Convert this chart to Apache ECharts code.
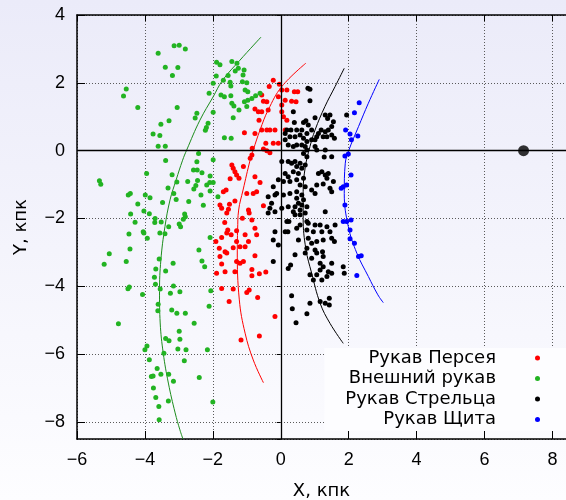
<!DOCTYPE html>
<html>
<head>
<meta charset="utf-8">
<script src="https://cdn.jsdelivr.net/npm/echarts@6/dist/echarts.min.js"></script>
<style>
  html, body { margin: 0; padding: 0; width: 566px; height: 500px; }
  body { background: linear-gradient(#ebebf9, #fdfdff); }
  #chart { width: 566px; height: 500px; }
</style>
</head>
<body>
<div id="chart"></div>
<script>
// arms, in legend order
const armNames = ['Рукав Персея', 'Внешний рукав', 'Рукав Стрельца', 'Рукав Щита']
const pointColors = ['#ff0000', '#22b322', '#000000', '#0000ff']
const lineColors = ['#ff0000', '#1c8c1c', '#000000', '#0000ff']

// measured sources, kpc
const perseusPts = [
  [-0.22,2.08],[-0.04,1.96],[-0.34,1.89],[0.03,1.79],[0.18,1.79],[0.40,1.74],[0.50,1.74],[-0.07,1.59],
  [-0.56,1.64],[-0.51,1.46],[-0.41,1.44],[0.13,1.49],[0.32,1.46],[0.45,1.44],[0.03,1.35],[0.03,1.15],
  [-0.37,1.20],[-0.56,1.15],[-0.66,1.15],[-0.76,1.23],[0.08,1.00],[0.18,0.90],[-0.64,0.90],[-0.56,0.61],
  [-0.41,0.61],[-0.32,0.61],[-0.17,0.61],[0.13,0.61],[-1.07,0.53],[-0.76,0.51],[-0.44,0.22],[-0.22,0.22],
  [-0.07,0.22],[-0.84,0.07],[-0.51,0.05],[-0.41,0.00],[-0.32,-0.06],[-0.85,-0.13],[-0.90,-0.22],
  [-1.44,-0.42],[-1.40,-0.52],[-1.35,-0.62],[-1.30,-0.72],[-1.49,-0.83],[-1.69,-1.21],[-1.61,-1.16],
  [-1.35,-1.48],[-1.79,-1.60],[-1.74,-1.70],[-1.51,-1.58],[-1.54,-1.73],[-1.59,-1.84],[-1.65,-2.12],
  [-1.56,-2.34],[-1.59,-2.43],[-1.74,-2.56],[-1.46,-2.48],[-1.30,-2.36],[-1.91,-2.68],[-1.81,-2.88],
  [-1.40,-2.86],[-1.30,-2.68],
  [-1.23,-0.81],[-0.76,-0.77],[-1.00,-1.26],[-0.81,-1.26],[-0.71,-1.21],[-0.51,-1.62],[-0.95,-1.75],
  [-0.93,-1.84],[-1.13,-1.99],[-0.85,-2.04],[-0.76,-2.29],[-1.05,-2.48],[-0.71,-2.48],[-0.95,-2.68],
  [-1.20,-2.83],[-1.05,-2.83],[-0.61,-0.94],[-1.10,-0.47],
  [-1.79,-3.12],[-1.64,-2.98],[-1.59,-3.02],[-1.30,-3.27],[-1.20,-3.32],[-1.10,-3.27],[-0.76,-3.10],
  [-1.74,-3.34],[-1.89,-3.61],[-1.64,-3.57],[-1.35,-3.57],[-0.85,-3.50],[-0.85,-3.69],[-0.63,-3.63],
  [-0.44,-3.58],[-1.74,-4.06],[-1.40,-4.08],[-1.00,-4.18],[-0.93,-4.11],[-0.68,-4.33],[-1.52,-4.45],
  [-0.17,-4.89],[-1.17,-5.58],[-0.63,-5.46]
]
const outerPts = [
  [-3.61,2.87],[-3.14,3.09],[-2.99,3.11],[-2.81,3.00],[-3.40,2.46],[-3.03,2.45],[-3.19,2.22],[-4.55,1.82],
  [-4.63,1.61],[-4.21,1.27],[-3.05,1.27],[-3.29,0.88],[-3.53,0.78],[-3.76,0.49],[-3.56,0.45],[-3.61,0.13],
  [-3.40,0.13],[-3.39,-0.29],[-2.47,1.10],[-2.52,0.96],[-2.14,0.81],[-2.19,0.68],[-2.22,0.60],[-2.11,1.69],
  [-1.99,1.13],[-1.66,0.38],[-1.46,0.37],[-2.42,-0.08],[-2.47,-0.33],[-1.99,-0.27],[-1.89,2.61],[-1.79,2.53],
  [-1.44,2.63],[-1.29,2.58],[-1.25,2.43],[-1.90,2.20],[-1.55,2.22],[-1.69,2.08],[-1.34,2.35],[-1.99,1.99],
  [-1.49,2.02],[-1.47,1.91],[-1.76,1.64],[-1.66,1.59],[-1.47,1.62],[-1.44,1.40],[-1.38,1.32],[-1.23,1.20],
  [-1.40,0.97],
  [-1.08,2.38],[-1.11,2.23],[-1.13,2.03],[-1.00,2.00],[-1.05,1.79],[-0.97,1.74],[-0.61,1.69],[-0.74,1.62],
  [-0.85,1.54],[-0.97,1.49],[-1.07,1.44],[-1.00,1.30],
  [-5.34,-0.89],[-5.30,-0.99],[-3.95,-0.67],[-3.20,-0.71],[-3.32,-1.10],[-3.06,-0.92],[-3.15,-1.26],
  [-3.08,-1.44],[-3.48,-1.53],[-3.85,-1.39],[-3.99,-1.31],[-4.49,-1.31],[-4.43,-1.26],[-4.21,-1.57],
  [-4.03,-1.78],[-3.87,-1.86],[-4.42,-1.87],[-3.70,-2.00],[-3.52,-2.10],[-3.71,-2.12],[-4.29,-2.11],
  [-3.30,-2.24],[-2.99,-2.16],[-2.95,-2.24],[-2.83,-1.87],[-2.81,-1.95],[-2.87,-2.02],[-3.56,-2.43],
  [-3.41,-2.45],[-4.05,-2.39],[-4.03,-2.43],[-3.93,-2.58],[-4.47,-2.46],[-4.44,-2.90],[-5.05,-3.04],
  [-5.20,-3.35],[-4.55,-3.27],[-3.58,-3.19],[-3.17,-3.32],[-3.39,-3.55],[-3.68,-3.49],[-3.72,-3.73],
  [-3.69,-3.94],[-3.55,-4.08],[-4.50,-4.07],[-4.46,-4.02],[-4.07,-4.24],[-3.25,-4.20],[-2.97,-4.16],
  [-3.16,-3.99],[-2.74,-0.91],[-2.57,-0.57],[-2.46,-0.57],[-2.32,-0.65],[-2.50,-1.03],[-2.56,-1.13],
  [-2.45,-0.88],[-2.71,-1.50],[-2.35,-1.31],[-2.28,-1.61],[-2.08,-0.75],[-2.09,-0.94],[-1.99,-0.94],
  [-2.18,-1.01],[-2.08,-1.19],[-1.85,-1.36],[-2.08,-2.56],[-2.41,-2.93],[-2.32,-3.25],[-2.24,-3.42],
  [-2.06,-4.13],
  [-3.61,-4.53],[-3.62,-4.72],[-3.21,-4.70],[-3.06,-4.79],[-2.81,-4.79],[-2.11,-4.59],[-4.78,-5.10],
  [-2.55,-5.09],[-2.99,-5.32],[-3.39,-5.54],[-3.29,-5.60],[-2.97,-5.56],[-3.94,-5.76],[-4.00,-5.87],
  [-3.03,-5.85],[-2.79,-5.87],[-2.16,-5.87],[-3.44,-5.97],[-3.87,-6.16],[-2.84,-6.19],[-3.64,-6.42],
  [-3.81,-6.66],[-3.76,-6.64],[-3.53,-6.59],[-3.30,-6.59],[-3.16,-6.80],[-2.40,-6.69],[-3.75,-7.00],
  [-3.68,-7.28],[-3.31,-7.38],[-3.59,-7.54],[-2.00,-7.41],[-3.58,-7.93]
]
const sagittariusPts = [
  [0.80,1.84],[0.86,1.81],[0.86,1.47],[0.37,1.15],[0.40,0.83],[1.01,0.97],[0.74,0.88],[0.67,0.83],
  [0.81,0.76],[0.91,0.61],[1.31,1.05],[1.45,1.05],[1.38,0.95],[1.55,0.85],[1.50,0.71],[1.40,0.61],
  [1.31,0.56],[1.19,0.61],[1.11,0.51],[1.25,0.41],[1.36,0.41],[1.50,0.46],[1.58,0.37],[1.06,0.41],
  [1.01,0.32],[0.91,0.32],[0.77,0.51],[0.62,0.61],[0.47,0.61],[0.30,0.61],[0.18,0.61],[0.13,0.51],
  [0.27,0.41],[0.42,0.41],[0.57,0.46],[0.67,0.37],[0.77,0.27],[0.13,0.32],[0.22,0.17],[0.37,0.12],
  [0.47,0.17],[0.62,0.17],[0.72,0.12],[0.77,0.02],[0.67,-0.08],[0.77,-0.18],[1.01,0.12],[1.06,0.02],
  [1.31,0.02],[1.28,-0.19],[1.50,-0.18],[1.94,1.05],
  [0.03,-0.32],[0.22,-0.32],[0.32,-0.37],[0.42,-0.32],[0.57,-0.37],[0.72,-0.42],[0.47,-0.47],[0.62,-0.52],
  [0.37,-0.62],[0.52,-0.67],[0.13,-0.67],[0.22,-0.77],[-0.07,-0.86],[0.08,-0.91],[0.27,-0.91],[0.47,-0.86],
  [0.67,-0.81],[0.57,-1.01],[0.72,-1.06],[1.11,-0.67],[1.21,-0.62],[1.31,-0.72],[1.40,-0.67],[1.36,-0.81],
  [1.55,-0.91],[1.06,-1.01],[1.25,-0.98],[0.91,-1.16],[1.01,-1.26],[1.45,-1.11],[1.50,-1.21],[-0.22,-1.06],
  [-0.12,-1.26],[-0.37,-1.36],[-0.17,-1.31],[-0.27,-1.55],[0.08,-1.31],[0.27,-1.26],[0.47,-1.21],[0.62,-1.31],
  [0.47,-1.40],[0.67,-1.45],[0.52,-1.55],[0.62,-1.60],[0.77,-1.65],[0.42,-1.65],[0.22,-1.65],[0.03,-1.70],
  [-0.32,-1.70],[-0.37,-1.84],[-0.17,-1.80],[0.37,-1.80],[0.57,-1.75],[0.72,-1.84],[0.57,-1.89],[0.42,-1.89],
  [1.31,-1.80],[0.77,-2.09],[0.18,-2.09],[0.24,-2.09],[0.57,-2.19],[0.81,-2.14],[1.01,-2.19],[1.16,-2.19],
  [1.36,-2.24],[1.60,-2.19],[0.47,-2.29],[0.77,-2.34],[0.96,-2.39],[-0.17,-2.39],[0.13,-2.39],[0.21,-2.39],
  [1.21,-2.39],[1.45,-2.39],[0.52,-2.63],[0.81,-2.58],[0.91,-2.73],[1.06,-2.68],[1.25,-2.63],[1.50,-2.58],
  [1.58,-2.68],[-0.22,-2.63],[-0.07,-2.78],[0.42,-3.07],[0.77,-2.88],[1.01,-2.93],[1.23,-2.98],[0.91,-3.17],
  [1.25,-3.12],[1.16,-3.32],[1.25,-3.42],[1.50,-3.32],[1.40,-3.57],[1.50,-3.61],[1.36,-3.71],[1.16,-3.52],
  [1.06,-3.66],[0.86,-3.66],[1.21,-3.81],[0.96,-3.81],[-0.22,-3.27],[0.22,-3.47],[1.84,-3.42],[1.87,-3.61],
  [0.72,-3.02],[1.06,-3.02],[0.29,-3.37],
  [0.32,-4.28],[0.86,-4.50],[1.16,-4.45],[1.31,-4.50],[1.43,-4.35],[1.43,-4.55],[0.34,-4.66],[0.77,-4.81],
  [0.45,-5.07]
]
const scutumPts = [
  [2.31,1.41],[2.17,1.12],[1.91,0.61],[2.04,0.49],[2.27,0.43],[2.08,0.32],[1.99,-0.10],[1.89,-0.16],
  [2.07,-0.72],[1.94,-1.01],[1.84,-1.06],[1.78,-1.11],[1.89,-1.60],[1.84,-2.09],[1.94,-2.09],[2.07,-2.04],
  [2.04,-2.34],[2.04,-2.60],[2.17,-2.73],[2.29,-3.12],[2.37,-3.10],[2.24,-3.68]
]

// arm tracings, bottom to top
const perseusArc = [
  [-0.51,-6.84],[-0.81,-6.17],[-1.05,-5.38],[-1.22,-4.40],[-1.28,-2.93],[-1.27,-2.34],[-1.24,-1.75],
  [-1.11,-1.16],[-0.90,-0.27],[-0.81,0.02],[-0.61,0.61],[-0.37,1.20],[0.03,1.89],[0.74,2.58]
]
const outerArc = [
  [-2.88,-8.5],[-2.97,-8.23],[-3.11,-7.73],[-3.31,-6.85],[-3.46,-5.97],[-3.55,-5.08],[-3.57,-4.15],
  [-3.53,-3.22],[-3.41,-2.24],[-3.26,-1.45],[-3.08,-0.86],[-2.89,-0.28],[-2.77,0.02],[-2.38,0.90],
  [-1.99,1.59],[-1.71,2.08],[-1.20,2.67],[-0.58,3.35]
]
const sagittariusArc = [
  [1.84,-5.68],[1.45,-5.09],[1.16,-4.50],[0.91,-3.61],[0.74,-2.90],[0.66,-2.00],[0.66,-1.20],
  [0.72,-0.50],[0.86,0.12],[1.01,0.61],[1.30,1.30],[1.60,1.89],[1.87,2.43]
]
const scutumArc = [
  [3.02,-4.48],[2.86,-4.25],[2.58,-3.71],[2.24,-3.02],[1.99,-2.24],[1.87,-1.26],[1.90,-0.37],
  [2.00,0.00],[2.29,0.71],[2.58,1.40],[2.90,2.10]
]
const bigDot = [[7.15, 0]]

const xMin = -6, xMax = 8.4, xStep = 2
const yMin = -8.5, yMax = 4

const numFont = "'Liberation Sans', Arial, sans-serif"
const textFont = "'DejaVu Sans', sans-serif"
const minusFmt = (v) => (v < 0 ? '\u2212' + Math.abs(v) : String(v))

const pointSets = [perseusPts, outerPts, sagittariusPts, scutumPts]
const arcSets = [perseusArc, outerArc, sagittariusArc, scutumArc]

const gridLine = { show: true, lineStyle: { color: '#5a5a5a', width: 1, type: [1, 2] } }
const frame = { show: true, onZero: false, lineStyle: { color: '#000', width: 1.5 } }
const tickLabel = { color: '#000', fontSize: 18, fontFamily: numFont }
const nameStyle = { color: '#000', fontSize: 18, fontFamily: textFont }

const series = []
arcSets.forEach((arc, i) => {
  series.push({
    type: 'line',
    name: armNames[i] + ' arc',
    data: arc,
    smooth: 0.4,
    showSymbol: false,
    silent: true,
    lineStyle: { color: lineColors[i], width: 1 },
    z: 3
  })
})
pointSets.forEach((pts, i) => {
  series.push({
    type: 'scatter',
    name: armNames[i],
    data: pts,
    symbolSize: 5,
    itemStyle: { color: pointColors[i], opacity: 1 },
    z: 4
  })
})
series.push({
  type: 'scatter',
  data: bigDot,
  symbolSize: 11,
  itemStyle: { color: '#000' },
  z: 4,
  markLine: {
    silent: true,
    symbol: 'none',
    label: { show: false },
    lineStyle: { color: '#000', width: 1.3, type: 'solid' },
    data: [{ xAxis: 0 }, { yAxis: 0 }]
  }
})

const chart = echarts.init(document.getElementById('chart'))
chart.setOption({
  animation: false,
  backgroundColor: 'transparent',
  grid: { left: 77, top: 15, right: 0, bottom: 61, outerBoundsMode: 'none' },
  legend: {
    data: armNames,
    orient: 'vertical',
    align: 'right',
    right: 0,
    top: 348,
    icon: 'circle',
    itemWidth: 5,
    itemHeight: 5,
    itemGap: 2.5,
    backgroundColor: '#fdfdff',
    padding: [1, 26, 2, 21],
    z: 4,
    textStyle: { color: '#000', fontSize: 18, fontFamily: textFont, padding: [0, 34, 0, 0] }
  },
  xAxis: [
    {
      type: 'value', min: xMin, max: xMax, interval: xStep, position: 'bottom', z: 1,
      axisLine: frame,
      axisTick: { inside: true, length: 8, lineStyle: { color: '#000' } },
      axisLabel: { ...tickLabel, margin: 12, formatter: minusFmt, showMaxLabel: false },
      splitLine: gridLine,
      name: 'X, кпк', nameLocation: 'middle', nameGap: 43,
      nameTextStyle: nameStyle
    },
    {
      type: 'value', min: xMin, max: xMax, interval: xStep, position: 'top', z: 6,
      axisLine: frame,
      axisTick: { inside: true, length: 6, lineStyle: { color: '#000' } },
      axisLabel: { show: false },
      splitLine: { show: false }
    }
  ],
  yAxis: [
    {
      type: 'value', min: yMin, max: yMax, splitNumber: 6, position: 'left', z: 1,
      axisLine: frame,
      axisTick: { inside: true, length: 8, lineStyle: { color: '#000' } },
      axisLabel: { ...tickLabel, margin: 12, formatter: minusFmt, showMinLabel: false },
      splitLine: gridLine,
      name: 'Y, кпк', nameLocation: 'middle', nameGap: 47,
      nameTextStyle: nameStyle
    },
    {
      type: 'value', min: yMin, max: yMax, splitNumber: 6, position: 'right', z: 6,
      axisLine: { show: false },
      axisTick: { inside: true, length: 4, lineStyle: { color: '#000' } },
      axisLabel: { show: false },
      splitLine: { show: false }
    }
  ],
  series: series
})
</script>
</body>
</html>
